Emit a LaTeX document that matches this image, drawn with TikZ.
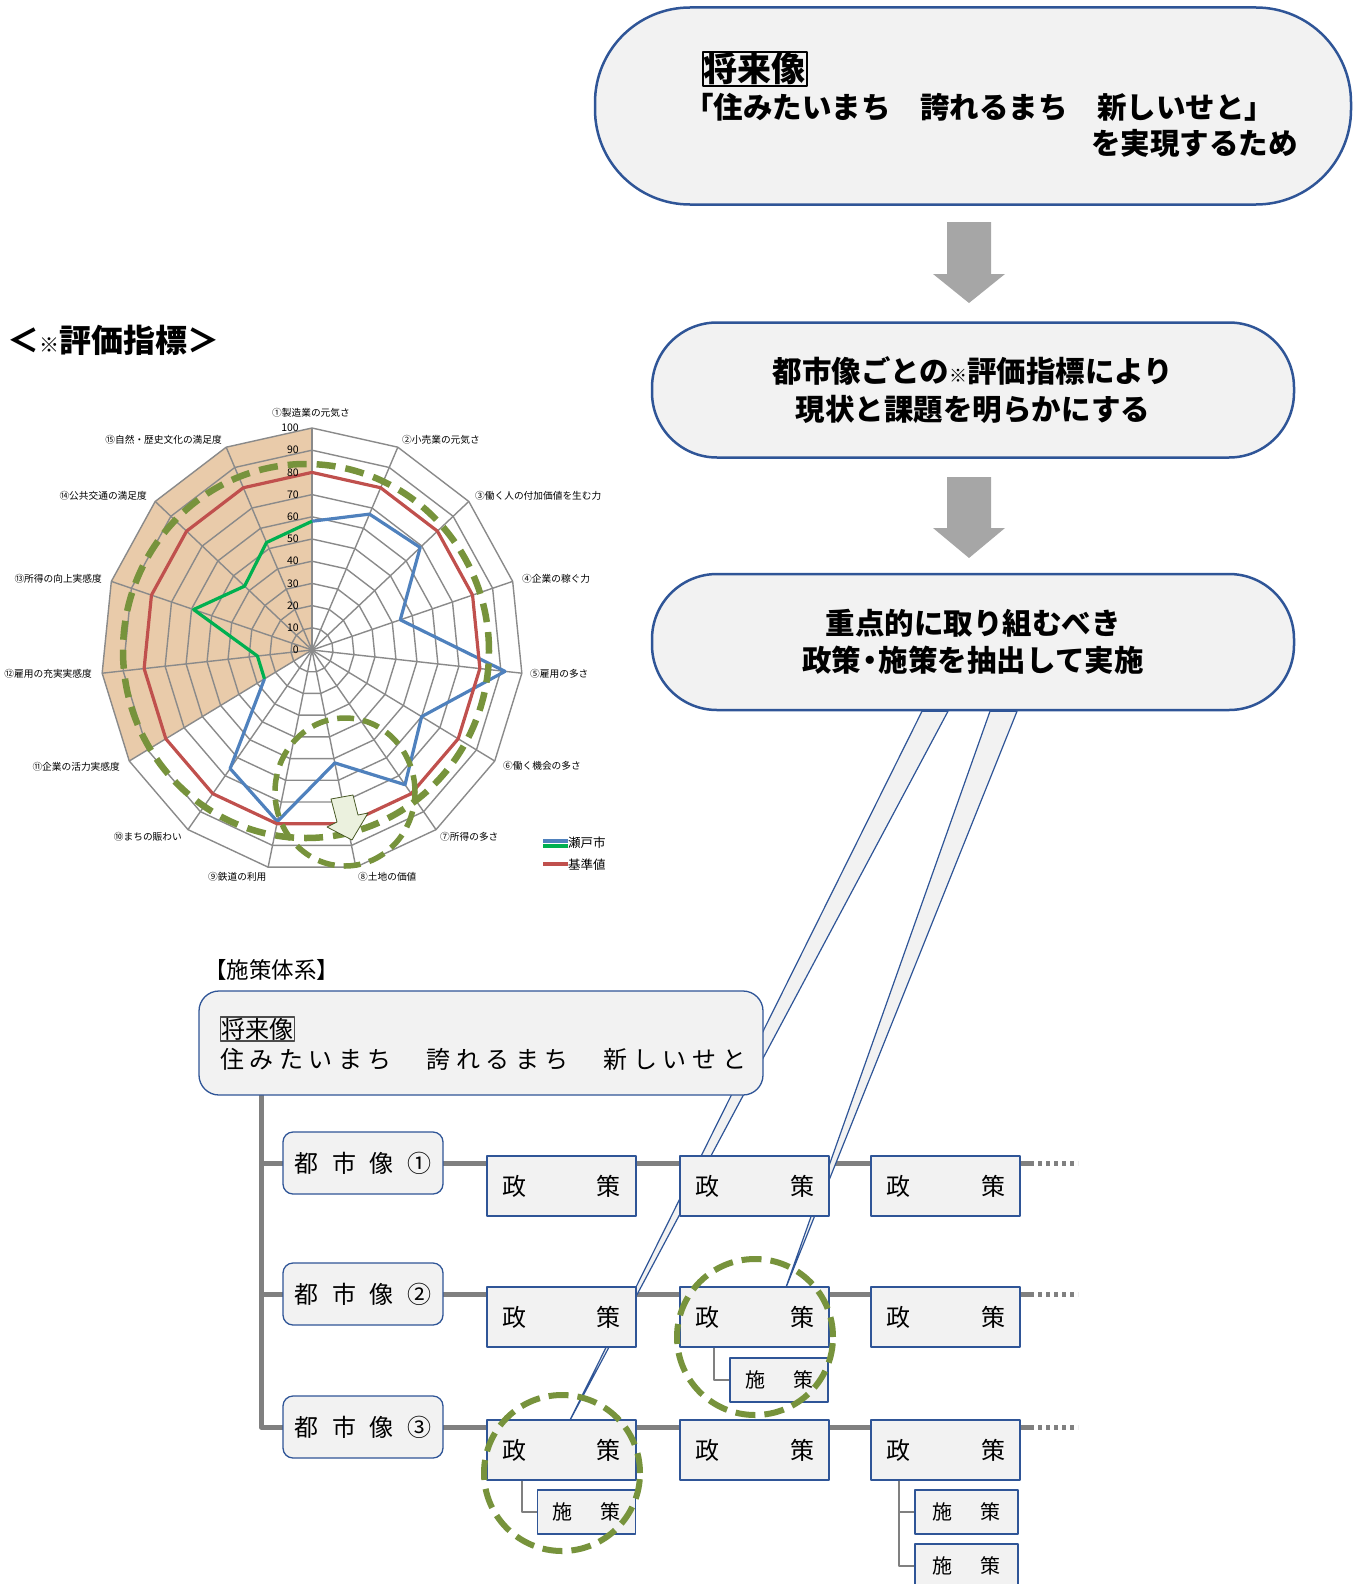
\documentclass[tikz,border=0pt]{standalone}
\usepackage{fontspec}
\setmainfont{Noto Sans CJK JP}
\definecolor{boxfill}{HTML}{F2F2F2}
\definecolor{boxline}{HTML}{2F5597}
\definecolor{arrowgray}{HTML}{A6A6A6}
\definecolor{linegray}{HTML}{808080}
\definecolor{gridgray}{HTML}{8A8A8A}
\definecolor{ringgreen}{HTML}{77933C}
\definecolor{setoblue}{HTML}{4F81BD}
\definecolor{setogreen}{HTML}{00B050}
\definecolor{basered}{HTML}{C0504D}
\definecolor{sectorfill}{HTML}{E9CBAA}
\definecolor{hintfill}{HTML}{EBF1DE}
\tikzset{
  flowbox/.style={draw=boxline, line width=2.5pt, fill=boxfill, align=center, inner sep=0pt,
    font=\fontsize{29.5}{37.5}\selectfont\bfseries},
  bigarrow/.style={fill=arrowgray},
  beam/.style={draw=boxline, line width=1.2pt, fill=boxfill},
  sysbox/.style={draw=boxline, line width=1.3pt, fill=boxfill},
  citybox/.style={sysbox, rounded corners=10pt, minimum width=160pt, minimum height=62pt,
    text width=137pt, font=\fontsize{24}{24}\selectfont},
  policybox/.style={sysbox, minimum width=149pt, minimum height=60pt, text width=119pt,
    font=\fontsize{24}{24}\selectfont},
  measurebox/.style={sysbox, minimum width=98pt, minimum height=44pt, text width=68pt,
    font=\fontsize{20}{20}\selectfont},
  trunk/.style={draw=linegray, line width=5pt},
  branch/.style={draw=linegray, line width=1.5pt},
  ring/.style={draw=ringgreen, line width=6.5pt, dash pattern=on 19pt off 10pt},
  gridline/.style={draw=gridgray, line width=1.4pt},
  axlab/.style={inner sep=0pt, font=\fontsize{9.7}{10}\selectfont},
  ticklab/.style={inner sep=0pt, anchor=east, font=\fontsize{10.5}{11}\selectfont},
  series/.style={line width=3.2pt, line join=round},
}
\newcommand{\narrowdot}{{\kern-6pt・\kern-6pt}}
\begin{document}
\begin{tikzpicture}[x=1pt,y=-1pt,line join=round]
\useasboundingbox (0,0) rectangle (1362,1584);
\clip (0,0) rectangle (1362,1584);

% evaluation chart
\node[font=\fontsize{32}{32}\selectfont\bfseries, anchor=west, inner sep=0pt] (charttitle) at (7,340)
  {＜{\fontsize{20}{20}\selectfont ※}評価指標＞};
\begin{scope}[shift={(312,650)},x=2.11pt,y=2.22pt]
  \fill[sectorfill] (0,0) \foreach \a in {210,186,...,90} {-- (\a:100)} -- cycle;
  \foreach \r in {10,20,...,100}
    \draw[gridline] (90:\r) \foreach \k in {1,...,14} {-- ({90-24*\k}:\r)} -- cycle;
  \foreach \k in {0,...,14}
    \draw[gridline] (0,0) -- ({90-24*\k}:100);
  \draw[series, setoblue] (90:58) \foreach \v [count=\i] in {67,69,44,92,60,75,52,79,66,26} {-- ({90-24*\i}:\v)};
  \draw[series, setogreen] (210:26) \foreach \v [count=\i from 11] in {26,59,43,53,58} {-- ({90-24*\i}:\v)};
  \draw[series, basered] (90:80) \foreach \k in {1,...,14} {-- ({90-24*\k}:80)} -- cycle;
\end{scope}
\foreach \v in {0,10,...,100}
  \node[ticklab] (tick\v) at (299,{650-2.22*\v}) {\v};
\foreach \lab/\pos/\anc [count=\n] in {
  {①製造業の元気さ}/{(311,413)}/center,
  {②小売業の元気さ}/{(402,440)}/west,
  {③働く人の付加価値を生む力}/{(475,496)}/west,
  {④企業の稼ぐ力}/{(522,579)}/west,
  {⑤雇用の多さ}/{(530,674)}/west,
  {⑥働く機会の多さ}/{(503,766)}/west,
  {⑦所得の多さ}/{(440,837)}/west,
  {⑧土地の価値}/{(358,877)}/west,
  {⑨鉄道の利用}/{(208,877)}/west,
  {⑩まちの賑わい}/{(182,837)}/east,
  {⑪企業の活力実感度}/{(120,767)}/east,
  {⑫雇用の充実実感度}/{(92,674)}/east,
  {⑬所得の向上実感度}/{(102,579)}/east,
  {⑭公共交通の満足度}/{(147,496)}/east,
  {⑮自然・歴史文化の満足度}/{(222,440)}/east}
  \node[axlab, anchor=\anc] (axis\n) at \pos {\lab};
\draw[ring] (306,651) ellipse [x radius=183pt, y radius=187pt];
\draw[ring, line width=5.5pt, dash pattern=on 17pt off 9pt] (345,792) ellipse [x radius=70pt, y radius=74pt];
\filldraw[fill=hintfill, draw=ringgreen!60!black, line width=0.8pt]
  (331,799) -- (353,795) -- (358,815) -- (368,813) -- (352,840) -- (327,827) -- (337,822) -- cycle;
% legend
\draw[line width=3.5pt, setoblue] (543,841) -- (568,841);
\draw[line width=3.5pt, setogreen] (543,846) -- (568,846);
\draw[line width=3.5pt, basered] (543,864) -- (568,864);
\node[axlab, font=\fontsize{12.5}{13}\selectfont, anchor=west] (legseto) at (568,843) {瀬戸市};
\node[axlab, font=\fontsize{12.5}{13}\selectfont, anchor=west] (legbase) at (568,865) {基準値};

% flow on the right
\node[flowbox, minimum width=756pt, minimum height=197pt, rounded corners=95pt] (visionbox) at (973,106) {};
\node[draw, line width=1.6pt, inner sep=1pt, anchor=west, font=\fontsize{34}{34}\selectfont\bfseries] (visiontag) at (702,69) {将来像};
\node[anchor=west, inner sep=0pt, font=\fontsize{29.5}{29.5}\selectfont\bfseries] (visionline) at (684,107)
  {「住みたいまち　誇れるまち　新しいせと」};
\node[anchor=east, inner sep=0pt, font=\fontsize{29.5}{29.5}\selectfont\bfseries] (visionend) at (1298,143) {を実現するため};
\node[flowbox, minimum width=642pt, minimum height=135pt, rounded corners=65pt] (evalbox) at (973,390)
  {都市像ごとの{\fontsize{18}{18}\selectfont ※}評価指標により\\現状と課題を明らかにする};
\node[flowbox, minimum width=642pt, minimum height=136pt, rounded corners=65pt] (emphbox) at (973,642)
  {重点的に取り組むべき\\政策\narrowdot 施策を抽出して実施};
\foreach \top/\head/\tip in {222/274/303, 477/528/558}
  \fill[bigarrow] (947,\top) -- (991,\top) -- (991,\head) -- (1005,\head) -- (969,\tip)
    -- (933,\head) -- (947,\head) -- cycle;

% policy system
\node[anchor=west, inner sep=0pt, font=\fontsize{22.5}{22.5}\selectfont] (systitle) at (204,970) {【施策体系】};
\coordinate (trunktop) at (261,1095);
\coordinate (tipA) at (568,1424);
\coordinate (tipB) at (785,1290);
\path (363,1163) coordinate (c1) (363,1294) coordinate (c2) (363,1427) coordinate (c3);
\foreach \r in {1,2,3} {
  \draw[trunk] (c\r) -- ++(667,0) coordinate (rowend\r);
  \draw[trunk, dash pattern=on 4pt off 4pt] (rowend\r) -- ++(48,0);
}
\draw[trunk] (trunktop) |- (c3);
\draw[trunk] (trunktop |- c1) -- (c1);
\draw[trunk] (trunktop |- c2) -- (c2);
\filldraw[beam] ([xshift=-51pt]emphbox.south) -- ([xshift=-25pt]emphbox.south) -- (tipA) -- cycle;
\filldraw[beam] ([xshift=17pt]emphbox.south) -- ([xshift=44pt]emphbox.south) -- (tipB) -- cycle;
\node[sysbox, rounded corners=20pt, minimum width=564pt, minimum height=104pt] (sysvision) at (481,1043) {};
\node[draw=black!70, line width=1.4pt, inner sep=1pt, anchor=west, font=\fontsize{24}{24}\selectfont] (systag) at (220,1029) {将来像};
\node[anchor=west, inner sep=0pt, font=\fontsize{24}{24}\selectfont\addfontfeatures{LetterSpace=23}] (sysline) at (220,1059)
  {住みたいまち　誇れるまち　新しいせと};
\foreach \r/\mk in {1/①,2/②,3/③}
  \node[citybox] (city\r) at (c\r) {都\hfill 市\hfill 像\hfill \mk};
\foreach \r/\y in {1/1186,2/1317,3/1450}
  \foreach \c/\x in {1/561.5,2/754.5,3/945.5}
    \node[policybox] (p\r\c) at (\x,\y) {政\hfill 策};
\node[measurebox] (m22) at (779,1380) {施\hfill 策};
\node[measurebox] (m31) at (586.5,1512) {施\hfill 策};
\node[measurebox, minimum width=103pt] (m33a) at (966.5,1512) {施\hfill 策};
\node[measurebox, minimum width=103pt] (m33b) at (966.5,1566) {施\hfill 策};
\draw[branch] ([xshift=-40.5pt]p22.south) |- (m22.west);
\draw[branch] ([xshift=-39.5pt]p31.south) |- (m31.west);
\draw[branch] ([xshift=-46.5pt]p33.south) |- (m33a.west);
\draw[branch] ([xshift=-46.5pt]p33.south) |- (m33b.west);
\draw[ring, line width=6pt, dash pattern=on 20pt off 9pt] (755,1337) circle [radius=78pt];
\draw[ring, line width=6pt, dash pattern=on 20pt off 9pt] (562,1473) circle [radius=78pt];
\end{tikzpicture}
\end{document}
